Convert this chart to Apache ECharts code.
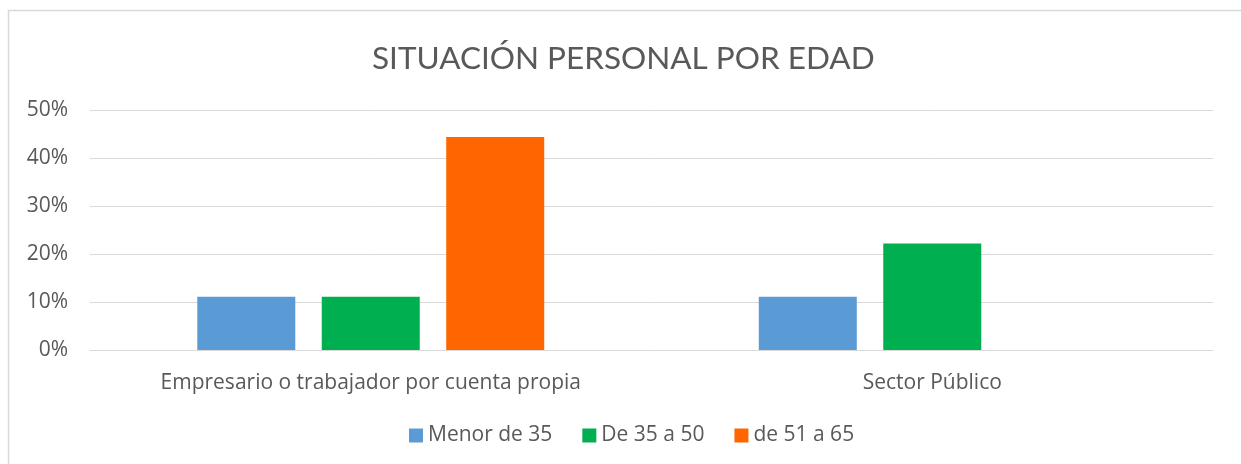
<!DOCTYPE html>
<html>
<head>
<meta charset="utf-8">
<script src="https://cdn.jsdelivr.net/npm/echarts@6/dist/echarts.min.js"></script>
<style>
  html, body { margin: 0; padding: 0; background: #fff; }
  #chart { width: 1241px; height: 464px; }
</style>
</head>
<body>
<div id="chart"></div>
<script>
const categories = ['Empresario o trabajador por cuenta propia', 'Sector Público']
const seriesNames = ['Menor de 35', 'De 35 a 50', 'de 51 a 65']
const menor35 = [11.1, 11.1]
const de35a50 = [11.1, 22.2]
const de51a65 = [44.4, 0]
const colors = ['#5B9BD5', '#00B050', '#FF6600']

const titleFont = 'Lato, "Open Sans", sans-serif'
const font = '"Open Sans", "Noto Sans", sans-serif'
const textColor = '#595959'

const chart = echarts.init(document.getElementById('chart'))
chart.setOption({
  animation: false,
  color: colors,
  graphic: [{
    type: 'rect',
    shape: { x: 8.5, y: 10.5, width: 1300, height: 500 },
    style: { fill: 'none', stroke: '#d9d9d9', lineWidth: 1.5 },
    silent: true
  }],
  title: {
    text: 'SITUACIÓN PERSONAL POR EDAD',
    left: 367,
    top: 38,
    textStyle: { fontFamily: titleFont, fontSize: 31.5, fontWeight: 'normal', color: textColor }
  },
  grid: { left: 90, right: 28, top: 110, bottom: 114 },
  legend: {
    data: seriesNames,
    bottom: 13,
    left: 404,
    icon: 'rect',
    itemWidth: 14,
    itemHeight: 14,
    itemGap: 30,
    textStyle: { fontFamily: font, fontSize: 21, color: textColor }
  },
  xAxis: {
    type: 'category',
    data: categories,
    axisLine: { lineStyle: { color: '#d9d9d9', width: 1 } },
    axisTick: { show: false },
    axisLabel: { fontFamily: font, fontSize: 21, color: textColor, margin: 23 }
  },
  yAxis: {
    type: 'value',
    min: 0,
    max: 50,
    interval: 10,
    axisLine: { show: false },
    axisTick: { show: false },
    splitLine: { lineStyle: { color: '#d9d9d9', width: 1 } },
    axisLabel: { formatter: '{value}%', fontFamily: font, fontSize: 21, color: textColor, margin: 22 }
  },
  series: [
    { name: seriesNames[0], type: 'bar', data: menor35, barWidth: 98, barGap: '27%' },
    { name: seriesNames[1], type: 'bar', data: de35a50, barWidth: 98, barGap: '27%' },
    { name: seriesNames[2], type: 'bar', data: de51a65, barWidth: 98, barGap: '27%' }
  ]
})
</script>
</body>
</html>
